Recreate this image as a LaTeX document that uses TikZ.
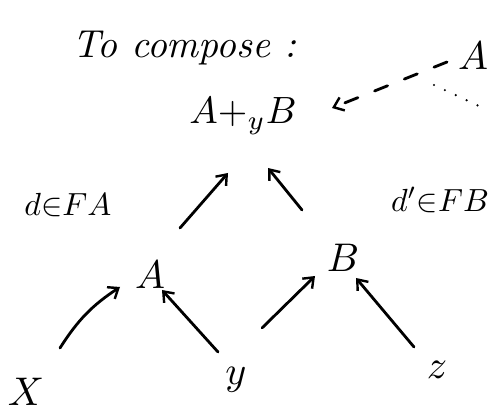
\documentclass[tikz,border=0pt]{standalone}
\usepackage{graphicx}
\usetikzlibrary{arrows.meta}
\newcommand{\objm}[1]{\scalebox{4}{$#1$}}
\newcommand{\lblm}[1]{\scalebox{3.2}{$#1$}}
\begin{document}
\begin{tikzpicture}[x=1pt,y=-1pt,
  ink/.style={line width=2.8pt,line cap=round,line join=round},
  arr/.style={ink,-{Straight Barb[length=9pt,width=14pt,line width=2.4pt]}},
  obj/.style={inner sep=0pt}]
\path[use as bounding box] (0,0) rectangle (493,414);

% title
\node[obj,anchor=base west] (title) at (72,58) {\scalebox{3.9}{\itshape To compose :}};

% top-right source of the dashed arrow
\node[obj,anchor=base west] (Atop) at (458,70) {\objm{A}};

% sum object
\node[obj] (sum) at (243,116) {\scalebox{3.8}{$A{+_{y}}B$}};

% labels of the two middle arrows
\node[obj] (dA) at (68,205) {\lblm{d {\in} FA}};
\node[obj] (dB) at (440,200) {\lblm{d' {\in} FB}};

% middle objects
\node[obj] (A) at (150,275) {\objm{A}};
\node[obj] (B) at (343,258) {\objm{B}};

% leaves
\node[obj] (X) at (26,392) {\objm{X}};
\node[obj] (Y) at (236,380) {\objm{y}};
\node[obj] (Z) at (437,370) {\objm{z}};

% arrows into the sum
\coordinate (a1s) at (180,228);
\coordinate (a1e) at (228,173);
\coordinate (a2s) at (302,210);
\coordinate (a2e) at (268,168);
\draw[arr] (a1s) -- (a1e);
\draw[arr] (a2s) -- (a2e);

% arrows into A and B
\coordinate (x1) at (60,348);
\coordinate (x2) at (120,287);
\draw[arr] (x1) to[bend left=12] (x2);
\coordinate (y1) at (218,352);
\coordinate (y2) at (162,290);
\draw[arr] (y1) -- (y2);
\coordinate (y3) at (262,328);
\coordinate (y4) at (315,276);
\draw[arr] (y3) -- (y4);
\coordinate (z1) at (414,347);
\coordinate (z2) at (356,278);
\draw[arr] (z1) -- (z2);

% dashed arrow from A to the sum
\coordinate (dS) at (447,62);
\coordinate (dE) at (332,108);
\draw[ink,dash pattern=on 14pt off 18pt,-{Straight Barb[length=9pt,width=14pt,line width=2.4pt]}] (dS) -- (dE);
\coordinate (p1) at (434,85);
\coordinate (p2) at (481,107);
\draw[line width=2.4pt,line cap=round,dash pattern=on 0pt off 12pt] (p1) -- (p2);
\end{tikzpicture}
\end{document}
